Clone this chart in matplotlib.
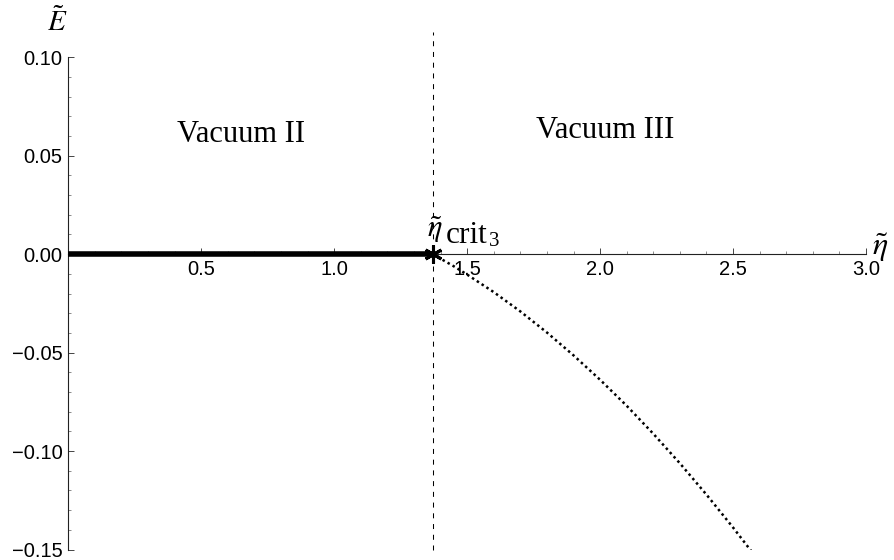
import matplotlib
matplotlib.use("Agg")
import matplotlib.pyplot as plt
from matplotlib.ticker import MultipleLocator, FixedLocator

plt.rcParams["mathtext.fontset"] = "stix"
plt.rcParams["font.family"] = ["Liberation Sans", "DejaVu Sans"]

# critical coupling where the vacuum changes
eta_crit = 1.37

# vacuum II branch: zero energy up to the critical point
eta_vac2 = [0.0, eta_crit]
E_vac2 = [0.0, 0.0]

# vacuum III branch beyond the critical point
eta_vac3 = [1.37, 1.45, 1.50, 1.60, 1.70, 1.80, 1.90, 2.00, 2.10, 2.20,
            2.30, 2.40, 2.50, 2.58]
E_vac3 = [0.0, -0.0062, -0.0104, -0.0193, -0.0291, -0.0398, -0.0514,
          -0.0638, -0.0770, -0.0912, -0.1062, -0.1221, -0.1388, -0.1528]

x_ticks = [0.5, 1.0, 1.5, 2.0, 2.5, 3.0]
x_ticklabels = ["0.5", "1.0", "1.5", "2.0", "2.5", "3.0"]
y_ticks = [-0.15, -0.10, -0.05, 0.00, 0.05, 0.10]
y_ticklabels = ["\u22120.15", "\u22120.10", "\u22120.05", "0.00", "0.05", "0.10"]

fig = plt.figure(figsize=(8.94, 5.6), dpi=100)
ax = fig.add_axes([0.0764, 0.0186, 0.8923, 0.8794])
ax.set_xlim(0, 3.0)
ax.set_ylim(-0.15, 0.10)

# axes crossing at the origin
for side in ("top", "right"):
    ax.spines[side].set_visible(False)
ax.spines["bottom"].set_position(("data", 0))
ax.spines["left"].set_position(("data", 0))
for side in ("bottom", "left"):
    ax.spines[side].set_linewidth(0.8)
    ax.spines[side].set_color("#222222")

ax.xaxis.set_major_locator(FixedLocator(x_ticks))
ax.set_xticklabels(x_ticklabels)
ax.xaxis.set_minor_locator(MultipleLocator(0.1))
ax.yaxis.set_major_locator(FixedLocator(y_ticks))
ax.set_yticklabels(y_ticklabels)
ax.yaxis.set_minor_locator(MultipleLocator(0.01))
ax.tick_params(which="major", direction="in", length=4, width=0.7,
               color="#444444", labelsize=14.5, pad=4)
ax.tick_params(which="minor", direction="in", length=2.5, width=0.6,
               color="#777777")
ax.tick_params(axis="y", which="both", left=True, right=False)
ax.tick_params(axis="x", which="both", bottom=True, top=False)

# branches
ax.plot(eta_vac2, E_vac2, color="black", lw=4, solid_capstyle="butt",
        zorder=3)
ax.plot(eta_vac3, E_vac3, color="black", lw=1.8, linestyle=(0, (1, 1.3)),
        zorder=3)

# boundary between the two vacua
ax.plot([eta_crit, eta_crit], [-0.15, 0.113], color="black", lw=0.75,
        linestyle=(0, (4.8, 5.5)), clip_on=False, zorder=2)
ax.plot([eta_crit], [0.0], marker=(6, 2, 0), markersize=13, mew=2.2,
        color="black", zorder=4, clip_on=False)

serif = ["Liberation Serif", "DejaVu Serif"]
ax.text(0.65, 0.0605, "Vacuum II", fontsize=22, family=serif,
        ha="center", va="center")
ax.text(2.02, 0.0625, "Vacuum III", fontsize=22, family=serif,
        ha="center", va="center")

# label of the critical point: symbol, subscript and sub-subscript
ax.annotate(r"$\tilde{\eta}$", xy=(eta_crit, 0), xytext=(-6, 17),
            textcoords="offset pixels", fontsize=22, ha="left",
            va="baseline")
ax.annotate("crit", xy=(eta_crit, 0), xytext=(13, 11),
            textcoords="offset pixels", fontsize=22.5, family=serif,
            ha="left", va="baseline")
ax.annotate("3", xy=(eta_crit, 0), xytext=(56, 8),
            textcoords="offset pixels", fontsize=15, family=serif,
            ha="left", va="baseline")

# axis labels at the ends of the axes
ax.text(-0.04, 0.110, r"$\tilde{E}$", fontsize=21, ha="center",
        va="bottom", clip_on=False)
ax.text(3.022, 0.003, r"$\tilde{\eta}$", fontsize=23, ha="left",
        va="center", clip_on=False)

fig.savefig("out.png", dpi=100)
